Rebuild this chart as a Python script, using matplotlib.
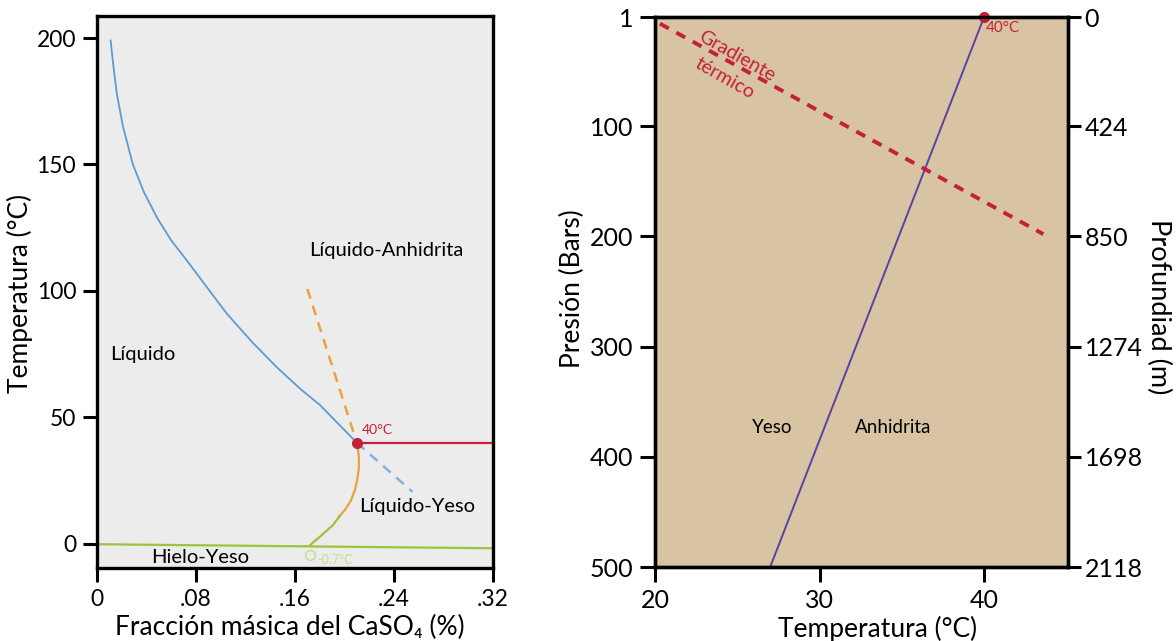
import matplotlib.pyplot as plt

plt.rcParams['font.family'] = ['Lato', 'DejaVu Sans']

# --- left: CaSO4-H2O phase diagram ---
liq_x = [0.011, 0.013, 0.016, 0.021, 0.029, 0.038, 0.0485, 0.060, 0.0727, 0.088,
         0.105, 0.125, 0.145, 0.165, 0.180, 0.195, 0.210]
liq_t = [199, 190, 178, 165, 150, 139, 129, 120, 112, 102,
         91, 80, 70, 61, 55, 47.5, 40]
yeso_meta_x = [0.210, 0.255]
yeso_meta_t = [40, 20.6]
anh_meta_x = [0.170, 0.210]
anh_meta_t = [100.8, 40]
gyp_x = [0.210, 0.2115, 0.2117, 0.2105, 0.2085, 0.205, 0.2004, 0.196]
gyp_t = [40, 35, 30.5, 26, 21.4, 17, 13.5, 11]
ice_x = [0.196, 0.1907, 0.185, 0.180, 0.175, 0.172]
ice_t = [11, 7.5, 5, 2.8, 0.8, -0.6]
solidus_x = [0.0, 0.32]
solidus_t = [-0.1, -1.7]
anh_line_x = [0.210, 0.32]
anh_line_t = [40, 40]
triple_x, triple_t = 0.210, 40

x_ticks = [0, 0.08, 0.16, 0.24, 0.32]
x_ticklabels = ['0', '.08', '.16', '.24', '.32']
t_ticks = [0, 50, 100, 150, 200]

# --- right: gypsum / anhydrite stability vs pressure ---
trans_t = [40, 27]
trans_p = [1, 500]
grad_t = [20.3, 43.6]
grad_p = [7, 198]
p_ticks = [1, 100, 200, 300, 400, 500]
depth_labels = ['0', '424', '850', '1274', '1698', '2118']
temp_ticks = [20, 30, 40]

red = '#c3213a'

fig = plt.figure(figsize=(11.76, 6.41), dpi=100)

ax = fig.add_axes([97 / 1176, 1 - 568 / 641, 396 / 1176, 552 / 641])
ax.set_facecolor('#ececed')
ax.plot(liq_x, liq_t, color='#5b9bd5', lw=1.3)
ax.plot(yeso_meta_x, yeso_meta_t, color='#7fb2e0', lw=1.8, ls=(0, (4, 3)))
ax.plot(anh_meta_x, anh_meta_t, color='#e8a33d', lw=1.8, ls=(0, (4, 3)))
ax.plot(gyp_x, gyp_t, color='#e8a33d', lw=1.6)
ax.plot(ice_x, ice_t, color='#9cc33b', lw=1.6)
ax.plot(solidus_x, solidus_t, color='#9cc33b', lw=1.6)
ax.plot(anh_line_x, anh_line_t, color=red, lw=1.6)
ax.plot([triple_x], [triple_t], 'o', color=red, ms=7, zorder=5)
ax.plot([0.172], [-4.5], 'o', mfc='none', mec='#c8dc8a', ms=7, mew=1)
ax.text(0.214, 43.5, '40°C', color=red, fontsize=10)
ax.text(0.178, -6.3, '-0.7°C', color='#c8dc8a', fontsize=9, va='center')
ax.text(0.234, 116, 'Líquido-Anhidrita', fontsize=14.5, ha='center', va='center')
ax.text(0.0105, 75, 'Líquido', fontsize=14.5, ha='left', va='center')
ax.text(0.259, 14.7, 'Líquido-Yeso', fontsize=14.5, ha='center', va='center')
ax.text(0.083, -5.2, 'Hielo-Yeso', fontsize=14.5, ha='center', va='center')
ax.set_xlim(0, 0.32)
ax.set_ylim(-9.5, 208.7)
ax.set_xticks(x_ticks)
ax.set_xticklabels(x_ticklabels)
ax.set_yticks(t_ticks)
ax.tick_params(direction='out', length=10, width=2.2, labelsize=16.5, pad=5)
ax.set_xlabel('Fracción másica del CaSO₄ (%)', fontsize=19)
ax.xaxis.set_label_coords(0.487, -0.085)
ax.set_ylabel('Temperatura (°C)', fontsize=19)
ax.yaxis.set_label_coords(-0.162, 0.497)
for sp in ax.spines.values():
    sp.set_linewidth(2.4)

ax2 = fig.add_axes([655 / 1176, 1 - 567 / 641, 413 / 1176, 550 / 641])
ax2.set_facecolor('#d8c4a2')
ax2.plot(trans_t, trans_p, color='#5a40a8', lw=1.4)
ax2.plot(grad_t, grad_p, color=red, lw=2.8, ls=(0, (2.6, 2.2)))
ax2.plot([40], [1], 'o', color=red, ms=7, zorder=5, clip_on=False)
ax2.text(40.1, 11, '40°C', color=red, fontsize=11, va='center')
ax2.text(24.6, 47, 'Gradiente\ntérmico', color=red, fontsize=14, rotation=-29.5,
         ha='center', va='center', linespacing=1.6, rotation_mode='anchor')
ax2.text(27.1, 373, 'Yeso', fontsize=13.5, ha='center', va='center')
ax2.text(34.5, 373, 'Anhidrita', fontsize=13.5, ha='center', va='center')
ax2.set_xlim(20, 45.1)
ax2.set_ylim(500, 1)
ax2.set_xticks(temp_ticks)
ax2.set_yticks(p_ticks)
ax2.tick_params(direction='out', length=10.5, width=2.2, labelsize=18, pad=5)
ax2.set_xlabel('Temperatura (°C)', fontsize=19)
ax2.xaxis.set_label_coords(0.539, -0.088)
ax2.set_ylabel('Presión (Bars)', fontsize=19)
ax2.yaxis.set_label_coords(-0.169, 0.506)
for sp in ax2.spines.values():
    sp.set_linewidth(2.4)

ax3 = ax2.twinx()
ax3.set_ylim(500, 1)
ax3.set_yticks(p_ticks)
ax3.set_yticklabels(depth_labels)
ax3.tick_params(direction='out', length=9, width=2.2, labelsize=18, pad=3)
ax3.set_ylabel('Profundiad (m)', fontsize=19.5, rotation=270, va='bottom')
ax3.yaxis.set_label_coords(1.19, 0.474)
for sp in ax3.spines.values():
    sp.set_linewidth(2.4)

fig.savefig('out.png', dpi=100, facecolor='white')
